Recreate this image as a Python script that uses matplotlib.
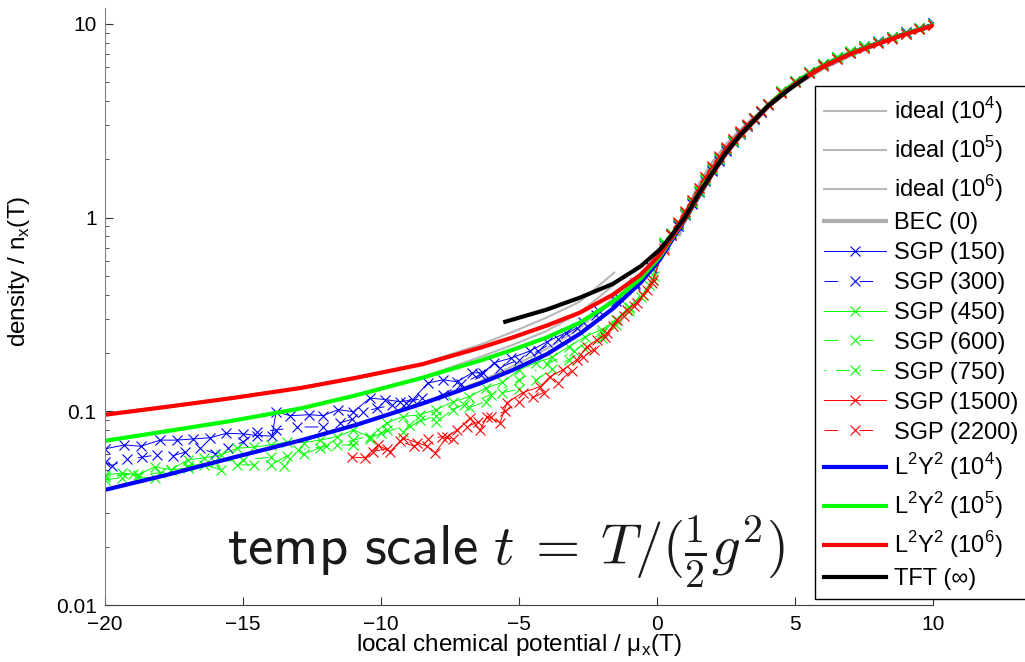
import numpy as np
import matplotlib
matplotlib.use('Agg')
import matplotlib.pyplot as plt

plt.rcParams['font.family'] = ['Liberation Sans', 'DejaVu Sans']

# ---- data ----
# L2Y2 curves
l2y2_mu = [-20, -17.75, -15.4, -12.9, -10.9, -8.5, -6.4, -5.2, -4.0, -2.8, -1.6, -0.6, 0.1,
           0.5, 1.0, 1.5, 2.0, 2.5, 3.0, 3.5, 4.0, 5.0, 6.0, 7.0, 8.0, 9.0, 10.0]
l2y2_1e4 = [0.0393, 0.047, 0.0575, 0.0708, 0.0851, 0.1096, 0.1396, 0.164, 0.197, 0.2512, 0.339, 0.461, 0.607,
            0.75, 0.97, 1.28, 1.69, 2.16, 2.64, 3.14, 3.73, 4.93, 6.02, 7.05, 7.95, 8.9, 9.85]
l2y2_1e5 = [0.0704, 0.0790, 0.0893, 0.1035, 0.121, 0.149, 0.183, 0.2085, 0.2405, 0.2865, 0.368, 0.484, 0.629,
            0.77, 0.98, 1.29, 1.69, 2.16, 2.64, 3.14, 3.73, 4.93, 6.02, 7.05, 7.95, 8.9, 9.85]
l2y2_1e6 = [0.096, 0.1055, 0.117, 0.132, 0.149, 0.175, 0.213, 0.2415, 0.277, 0.323, 0.400, 0.507, 0.644,
            0.78, 0.98, 1.30, 1.68, 2.15, 2.63, 3.13, 3.72, 4.90, 6.0, 7.0, 7.9, 8.85, 9.8]

# ideal gas curves
ideal_mu = [-20, -17.75, -15.4, -12.9, -10.9, -8.5, -6.4, -5.2, -4.0, -2.8, -1.55]
ideal_1e4 = [0.0395, 0.0472, 0.0578, 0.071, 0.0855, 0.111, 0.143, 0.172, 0.210, 0.268, 0.39]
ideal_1e5 = [0.0708, 0.0794, 0.0898, 0.104, 0.1218, 0.150, 0.191, 0.221, 0.26, 0.323, 0.451]
ideal_1e6 = [0.097, 0.1065, 0.118, 0.133, 0.150, 0.177, 0.221, 0.258, 0.305, 0.368, 0.52]

# BEC (0) and TFT
bec_mu = [0.8, 1.0, 1.5, 2.0, 2.5, 3.0, 3.5, 4.0, 5.0, 6.0, 7.0, 8.0, 9.0, 10.0]
bec_n = [0.82, 1.0, 1.45, 1.9, 2.35, 2.8, 3.25, 3.75, 4.85, 5.9, 6.9, 7.9, 8.9, 9.85]
tft_mu = [-5.5, -4.0, -2.8, -1.6, -0.6, 0.1, 0.5, 1.0, 1.5, 2.0, 2.5, 3.0, 3.5, 4.0, 4.7, 5.4]
tft_n = [0.290, 0.335, 0.386, 0.455, 0.56, 0.684, 0.80, 1.0, 1.32, 1.70, 2.17, 2.66, 3.16, 3.75, 4.5, 5.3]

# SGP samples, common grid for mu > 0
sgp_mu_pos = [0.25, 0.5, 0.75, 1.0, 1.25, 1.5, 1.75, 2.0, 2.25, 2.5, 2.75, 3.0, 3.25, 3.5,
              3.75, 4.0, 4.5, 5.0, 5.5, 6.0, 6.5, 7.0, 7.5, 8.0, 8.5, 9.0, 9.5, 10.0]

sgp150_mu = [-20.0, -19.3, -18.7, -18.0, -17.4, -16.8, -16.2, -15.6, -15.0, -14.5, -13.95, -13.8,
             -13.3, -12.6, -12.1, -11.55, -11.0, -10.4, -9.85, -9.3, -8.85, -8.3, -7.75, -7.25,
             -6.7, -6.3, -5.9, -5.3, -4.6, -4.0, -3.3, -2.7, -2.1, -1.4, -0.8, -0.25]
sgp150_n = [0.064, 0.067, 0.066, 0.071, 0.071, 0.072, 0.073, 0.077, 0.0765, 0.075, 0.0745, 0.0995,
            0.095, 0.096, 0.095, 0.102, 0.0995, 0.117, 0.115, 0.112, 0.115, 0.140, 0.1455, 0.142,
            0.158, 0.158, 0.178, 0.188, 0.205, 0.228, 0.255, 0.29, 0.33, 0.39, 0.46, 0.56]
sgp150_pos = [0.72, 0.81, 0.91, 1.03, 1.18, 1.36, 1.55, 1.74, 1.97, 2.22, 2.46, 2.71, 2.97, 3.22,
              3.50, 3.83, 4.45, 5.05, 5.62, 6.18, 6.70, 7.18, 7.66, 8.10, 8.60, 9.05, 9.55, 10.05]

sgp300_mu = [-20.0, -19.75, -19.2, -18.65, -18.1, -17.55, -17.1, -16.55, -16.0, -15.55, -15.0,
             -14.5, -13.8, -13.05, -12.1, -11.5, -11.05, -10.65, -10.15, -9.6, -9.1, -8.5, -7.75,
             -7.1, -6.4, -5.7, -5.0, -4.3, -3.6, -2.9, -2.2, -1.5, -0.8, -0.2]
sgp300_n = [0.0545, 0.0525, 0.0565, 0.058, 0.0596, 0.059, 0.0615, 0.0645, 0.0605, 0.0645, 0.0695,
            0.0785, 0.080, 0.083, 0.083, 0.087, 0.091, 0.0995, 0.1035, 0.108, 0.111, 0.117, 0.122,
            0.138, 0.155, 0.168, 0.185, 0.205, 0.235, 0.27, 0.315, 0.37, 0.45, 0.55]
sgp300_pos = [0.74, 0.82, 0.92, 1.04, 1.19, 1.37, 1.56, 1.76, 1.99, 2.24, 2.48, 2.73, 2.98, 3.24,
              3.53, 3.85, 4.47, 5.08, 5.64, 6.20, 6.72, 7.20, 7.68, 8.12, 8.58, 9.08, 9.58, 10.1]

sgp450_mu = [-20.0, -19.4, -18.8, -18.2, -17.6, -17.0, -16.4, -15.8, -15.2, -14.6, -14.0, -13.4,
             -12.8, -12.2, -11.6, -11.0, -10.4, -9.8, -9.2, -8.6, -8.0, -7.4, -6.8, -6.2, -5.6,
             -5.0, -4.4, -3.8, -3.2, -2.6, -2.0, -1.5, -1.0, -0.6, -0.15]
sgp450_n = [0.047, 0.048, 0.047, 0.0517, 0.050, 0.0562, 0.0575, 0.0596, 0.0645, 0.0653, 0.0671,
            0.0695, 0.069, 0.071, 0.074, 0.080, 0.074, 0.087, 0.094, 0.096, 0.102, 0.112, 0.119,
            0.132, 0.141, 0.164, 0.178, 0.19, 0.216, 0.243, 0.264, 0.297, 0.347, 0.39, 0.478]
sgp450_pos = [0.74, 0.83, 0.93, 1.05, 1.20, 1.38, 1.57, 1.78, 2.01, 2.26, 2.50, 2.75, 3.00, 3.26,
              3.55, 3.88, 4.50, 5.10, 5.66, 6.22, 6.74, 7.22, 7.66, 8.10, 8.55, 9.02, 9.50, 9.98]

sgp600_mu = [-20.0, -19.4, -18.8, -18.2, -17.6, -17.0, -16.4, -15.8, -15.2, -14.6, -14.0, -13.4,
             -12.8, -12.2, -11.6, -11.0, -10.4, -9.8, -9.2, -8.6, -8.0, -7.4, -6.8, -6.2, -5.6,
             -5.0, -4.4, -3.8, -3.2, -2.6, -2.0, -1.5, -1.0, -0.5, -0.1]
sgp600_n = [0.0443, 0.0455, 0.046, 0.045, 0.0499, 0.051, 0.0529, 0.0499, 0.0529, 0.0529, 0.0529,
            0.059, 0.060, 0.065, 0.067, 0.067, 0.072, 0.080, 0.078, 0.090, 0.088, 0.102, 0.105,
            0.112, 0.125, 0.13, 0.145, 0.165, 0.185, 0.21, 0.24, 0.28, 0.33, 0.40, 0.50]
sgp600_pos = [0.75, 0.82, 0.94, 1.06, 1.21, 1.39, 1.58, 1.79, 2.02, 2.27, 2.51, 2.76, 3.01, 3.27,
              3.56, 3.87, 4.48, 5.08, 5.64, 6.20, 6.70, 7.20, 7.64, 8.08, 8.52, 9.00, 9.48, 9.95]

sgp750_mu = [-20.0, -19.0, -18.0, -17.0, -16.0, -15.0, -14.0, -13.5, -13.0, -12.0, -11.0, -10.0,
             -9.0, -8.0, -7.0, -6.0, -5.0, -4.0, -3.0, -2.0, -1.0, -0.3]
sgp750_n = [0.046, 0.0475, 0.048, 0.052, 0.055, 0.056, 0.058, 0.0525, 0.063, 0.066, 0.071, 0.077,
            0.085, 0.095, 0.108, 0.122, 0.145, 0.175, 0.205, 0.255, 0.34, 0.45]
sgp750_pos = [0.73, 0.83, 0.93, 1.05, 1.20, 1.38, 1.58, 1.78, 2.00, 2.25, 2.50, 2.74, 2.99, 3.25,
              3.54, 3.86, 4.49, 5.09, 5.65, 6.21, 6.72, 7.21, 7.65, 8.09, 8.54, 9.01, 9.49, 9.97]

sgp1500_mu = [-11.05, -10.58, -10.11, -9.67, -9.20, -8.70, -8.33, -8.04, -7.61, -7.25, -6.78,
              -6.41, -6.16, -5.69, -5.43, -4.86, -4.24, -3.88, -3.41, -2.90, -2.54, -2.17, -1.81,
              -1.45, -1.09, -0.72, -0.36, -0.14]
sgp1500_n = [0.058, 0.0575, 0.067, 0.062, 0.0728, 0.069, 0.066, 0.061, 0.074, 0.080, 0.092,
             0.080, 0.094, 0.0875, 0.111, 0.125, 0.134, 0.151, 0.164, 0.185, 0.216, 0.234, 0.254,
             0.297, 0.3345, 0.364, 0.425, 0.478]
sgp1500_pos = [0.70, 0.82, 0.94, 1.07, 1.23, 1.42, 1.62, 1.83, 2.06, 2.30, 2.54, 2.78, 3.02, 3.27,
               3.55, 3.85, 4.42, 5.00, 5.55, 6.10, 6.60, 7.08, 7.52, 7.98, 8.42, 8.90, 9.38, 9.85]

sgp2200_mu = [-10.3, -9.8, -9.3, -8.8, -8.3, -7.8, -7.4, -6.9, -6.5, -6.0, -5.5, -5.0, -4.5,
              -4.1, -3.6, -3.1, -2.7, -2.3, -1.9, -1.6, -1.2, -0.85, -0.5, -0.2]
sgp2200_n = [0.062, 0.064, 0.070, 0.066, 0.072, 0.074, 0.072, 0.083, 0.088, 0.094, 0.100, 0.112,
             0.118, 0.125, 0.140, 0.162, 0.190, 0.208, 0.243, 0.275, 0.31, 0.35, 0.40, 0.46]
sgp2200_pos = [0.68, 0.81, 0.95, 1.08, 1.24, 1.43, 1.63, 1.84, 2.07, 2.31, 2.55, 2.79, 3.03, 3.28,
               3.56, 3.86, 4.43, 5.00, 5.55, 6.08, 6.58, 7.06, 7.50, 7.96, 8.40, 8.88, 9.36, 9.82]

blue = (0, 0, 1)
green = (0, 1, 0)
red = (1, 0, 0)
grey = (0.72, 0.72, 0.72)

dashed = (0, (14, 22))
dashdot = (0, (2, 10, 14, 10))

fig = plt.figure(figsize=(10.25, 6.62), dpi=100)
ax = fig.add_axes([0.1024, 0.0861, 0.808, 0.902])

ax.plot(ideal_mu, ideal_1e4, color=grey, lw=1.5, label='ideal (10$^\\mathregular{4}$)')
ax.plot(ideal_mu, ideal_1e5, color=grey, lw=1.5, label='ideal (10$^\\mathregular{5}$)')
ax.plot(ideal_mu, ideal_1e6, color=grey, lw=1.5, label='ideal (10$^\\mathregular{6}$)')
ax.plot(bec_mu, bec_n, color=(0.68, 0.68, 0.68), lw=3, label='BEC (0)')

sgp = [
    (sgp150_mu, sgp150_n, sgp150_pos, blue, '-', 'SGP (150)'),
    (sgp300_mu, sgp300_n, sgp300_pos, blue, dashed, 'SGP (300)'),
    (sgp450_mu, sgp450_n, sgp450_pos, green, '-', 'SGP (450)'),
    (sgp600_mu, sgp600_n, sgp600_pos, green, dashed, 'SGP (600)'),
    (sgp750_mu, sgp750_n, sgp750_pos, green, dashdot, 'SGP (750)'),
    (sgp1500_mu, sgp1500_n, sgp1500_pos, red, '-', 'SGP (1500)'),
    (sgp2200_mu, sgp2200_n, sgp2200_pos, red, dashed, 'SGP (2200)'),
]
for mu, n, npos, c, ls, lab in sgp:
    ax.plot(mu + sgp_mu_pos, n + npos, color=c, ls=ls, lw=0.7, marker='x',
            ms=6.5, mew=0.8, label=lab)

ax.plot(l2y2_mu, l2y2_1e4, color=blue, lw=3, label='L$^\\mathregular{2}$Y$^\\mathregular{2}$ (10$^\\mathregular{4}$)')
ax.plot(l2y2_mu, l2y2_1e5, color=green, lw=3, label='L$^\\mathregular{2}$Y$^\\mathregular{2}$ (10$^\\mathregular{5}$)')
ax.plot(l2y2_mu, l2y2_1e6, color=red, lw=3, label='L$^\\mathregular{2}$Y$^\\mathregular{2}$ (10$^\\mathregular{6}$)')
ax.plot(tft_mu, tft_n, color='k', lw=3, label='TFT (∞)')

ax.set_yscale('log')
ax.set_xlim(-20, 10)
ax.set_ylim(0.01, 12.1)
ax.set_xticks([-20, -15, -10, -5, 0, 5, 10])
ax.set_yticks([0.01, 0.1, 1, 10])
ax.set_yticklabels(['0.01', '0.1', '1', '10'])
ax.tick_params(axis='both', which='both', direction='in', labelsize=15, colors='#333333',
               labelcolor='black')
ax.tick_params(axis='both', which='major', length=6)
ax.tick_params(axis='y', which='minor', length=3)
ax.tick_params(axis='x', pad=7)
ax.tick_params(axis='y', pad=6)
for s in ['top', 'right']:
    ax.spines[s].set_visible(False)
ax.spines['left'].set_color('#808080')
ax.spines['bottom'].set_color('#404040')

ax.set_xlabel('local chemical potential / μ$_\\mathregular{x}$(T)', fontsize=17.5, va='top')
ax.xaxis.set_label_coords(0.5, -0.046)
ax.set_ylabel('density / n$_\\mathregular{x}$(T)', fontsize=17.5)
ax.yaxis.set_label_coords(-0.088, 0.558)

leg = ax.legend(loc='upper left', bbox_to_anchor=(0.795, 0.870), bbox_transform=fig.transFigure,
                fontsize=17, frameon=True, fancybox=False, handlelength=2.6, handletextpad=0.35,
                labelspacing=0.336, borderpad=0.4, borderaxespad=0)
leg.get_frame().set_edgecolor('black')
leg.get_frame().set_linewidth(1.0)
leg.get_frame().set_alpha(1)

fig.text(0.493, 0.1465, '$\\mathsf{temp\\ scale}\\ t\\:=\\:T/(\\frac{1}{2}g^2)$', fontsize=41,
         ha='center', va='baseline', color='#1a1a1a', math_fontfamily='cm')

fig.savefig('out.png', dpi=100)
